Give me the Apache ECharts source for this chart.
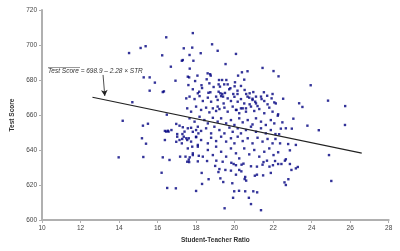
<!DOCTYPE html>
<html><head><meta charset="utf-8">
<script src="https://cdn.jsdelivr.net/npm/echarts@6/dist/echarts.min.js"></script>
<style>html,body{margin:0;padding:0;background:#fff}#c{width:400px;height:251px}</style>
</head><body><div id="c"></div>
<script>
// Student-teacher ratio / test score pairs
const topDistricts = [
[16.45,704.4],[15.38,699.3],[15.12,698.3],[14.52,695.4],[16.24,694.1],[17.31,691.4],[17.26,691.0],[17.36,698.1],[16.69,687.6],[15.28,681.5],[15.59,681.5],[15.86,678.5],[16.93,679.6],[15.59,673.9],[16.33,673.5],[16.27,673.1],
[17.83,706.8],[18.83,700.4],[19.12,696.7],[17.80,698.5],[17.66,694.3],[18.24,695.3],[20.07,694.9],[17.86,691.0],[19.53,689.1],[17.67,686.5],[21.45,686.9],[22.02,685.1],[20.67,685.0],[20.38,684.4],[17.57,681.9],[17.64,681.5],[18.07,682.5],[18.60,683.8],[18.73,683.3],[18.76,682.5],[18.55,680.4],[20.18,682.5],[20.50,680.2],[19.19,680.0],[19.35,680.0],[19.57,680.0],[17.95,679.4],[17.60,677.1],[18.31,675.4],[18.69,678.1],[18.91,676.0],[19.17,677.5],[19.64,677.5],[20.02,678.7],[20.00,676.4],[19.78,675.3],[18.09,672.4],[18.16,673.3],[18.74,673.0],[19.17,673.3],[19.26,672.4],[19.36,672.0],[19.50,672.6],[19.93,672.0],[20.15,672.0],[20.60,672.0],[20.78,672.4],[21.97,672.0],[17.83,674.7],[22.28,682.1],[23.95,677.0],[21.52,673.0],[21.69,671.0],
[18.28,677.0],[18.64,672.7],[19.24,676.2],[19.46,677.5],[19.40,670.5],[19.72,674.7],[20.15,673.9],[20.33,676.6],[20.52,674.3],[20.97,673.1],[20.67,670.5],[20.93,669.3],[21.11,670.5],[21.40,669.1],[21.07,667.6],[21.19,665.1],[20.78,666.1],[20.59,663.8],[20.33,663.8],[20.10,662.9]
];
const rightDistricts = [
[22.52,669.3],[22.14,666.6],[23.35,666.7],[23.52,664.6],[24.85,668.2],[25.74,665.1],[22.26,660.4],[22.24,659.6],[23.05,657.9],[22.48,655.8],[23.78,653.9],[25.73,654.3],[22.40,652.2],[22.66,652.4],[22.97,652.2],[24.37,651.3],[22.12,649.1],[22.31,649.0],[22.12,646.3],[22.36,643.8],[22.78,643.4],[22.87,639.8],[22.26,638.7],[24.90,637.1],[22.66,634.7],[25.02,622.3],[23.18,629.5],[23.28,630.3],[22.95,628.6],[22.26,632.0],[22.43,632.0],[22.61,633.9],[22.87,632.0],[22.79,623.3],[22.59,621.5],[22.66,620.0],[23.18,642.9],[22.10,633.7]
];
const bottomDistricts = [
[17.64,633.1],[18.09,633.5],[18.57,633.7],[19.05,633.9],[19.38,633.3],[19.83,632.7],[19.95,632.0],[20.07,631.3],[20.36,631.6],[20.46,632.2],[20.85,630.7],[21.16,630.5],[21.45,631.6],[21.50,633.1],[21.68,633.9],[21.81,630.5],[21.99,631.3],[18.99,630.9],[19.21,629.1],[19.16,627.4],[19.52,628.6],[19.81,628.2],[20.24,628.6],[20.35,627.8],[20.07,625.9],[20.55,624.6],[20.52,623.4],[20.60,622.5],[21.05,625.3],[21.16,625.9],[21.48,625.5],[21.88,626.9],[18.29,626.9],[18.65,623.3],[19.26,623.8],[19.41,621.7],[19.88,621.0],[18.31,620.6],[18.00,616.6],[19.98,616.4],[20.23,616.7],[20.55,616.4],[20.97,616.4],[21.17,615.8],[19.92,612.7],[20.74,612.7],[20.85,609.1],[19.48,606.7],[21.37,605.6]
];
const leftDistricts = [
[16.62,634.3],[16.21,627.0],[16.50,618.3],[16.95,618.1],[13.98,635.8],[15.26,636.0],[15.19,646.7],[15.40,643.6],[15.24,653.9],[16.27,635.8],[17.17,636.2],[17.45,636.2],[17.67,635.8],[17.62,634.5],[17.54,633.3],[17.80,641.9],[16.97,644.7],[17.14,645.7],[17.28,646.3],[16.38,645.7],[16.38,650.9],[16.45,650.5],[16.53,651.0],[16.72,651.4],[17.02,649.1],[17.40,650.5],[17.36,647.6],[17.54,645.7],[17.62,646.7],[17.74,652.7],[18.00,651.4],[18.12,649.5],[18.00,647.3],[18.09,642.9],[18.14,636.7],[17.83,637.1],
[14.69,667.3],[14.19,656.7],[15.50,655.0],[16.48,660.2],[16.97,654.9],[17.14,653.9],[17.31,653.0],[16.57,650.5],[17.29,649.1],[17.26,643.8],[17.02,647.6]
];
const centerDistricts = [
[17.49,669.5],[17.66,670.5],[17.92,669.1],[18.18,670.8],[18.35,668.0],[18.61,669.9],[18.78,667.6],[19.04,670.5],[19.12,668.6],[19.30,670.8],[19.43,666.6],[19.64,669.5],[19.81,668.0],[19.99,670.4],[20.16,667.6],[20.33,669.1],[20.50,666.6],[20.76,669.9],[20.93,668.6],[21.11,666.6],[21.37,670.5],[21.54,668.0],[21.71,666.1],[21.92,669.5],[22.06,667.2],
[17.54,663.8],[17.74,661.9],[18.00,664.8],[18.26,662.9],[18.52,664.2],[18.69,661.5],[18.87,663.8],[19.04,662.3],[19.12,664.8],[19.21,663.4],[19.47,664.2],[19.64,661.9],[19.90,664.8],[20.07,662.9],[20.24,661.0],[20.42,663.8],[20.59,661.9],[20.85,664.8],[21.02,662.3],[21.28,663.4],[21.54,661.0],[21.80,664.2],[21.97,661.9],
[17.66,658.1],[17.92,656.2],[18.18,659.0],[18.43,657.1],[18.61,655.2],[18.87,658.4],[19.12,656.2],[19.30,658.1],[19.56,655.2],[19.81,657.1],[19.99,654.3],[20.24,658.1],[20.42,655.8],[20.68,657.1],[20.93,654.6],[21.11,658.1],[21.37,656.2],[21.62,654.3],[21.88,657.1],[22.06,655.2],
[17.57,652.4],[17.83,650.4],[18.09,653.3],[18.26,650.9],[18.52,652.4],[18.78,649.5],[18.95,653.3],[19.21,651.4],[19.47,649.5],[19.73,652.8],[19.90,650.4],[20.16,652.4],[20.33,649.5],[20.59,651.4],[20.85,653.3],[21.11,650.4],[21.37,652.4],[21.62,649.5],[21.88,651.4],
[17.49,646.7],[17.74,644.8],[18.00,647.6],[18.26,645.7],[18.61,643.8],[18.78,647.0],[19.04,645.1],[19.30,647.6],[19.56,644.8],[19.81,646.7],[19.99,643.8],[20.16,647.6],[20.42,645.1],[20.68,646.7],[20.93,643.8],[21.19,647.0],[21.45,644.8],[21.71,646.3],[21.97,643.8],
[17.57,640.9],[17.83,638.1],[18.09,641.9],[18.35,636.2],[18.61,640.0],[18.87,637.1],[19.04,641.9],[19.30,639.0],[19.56,636.2],[19.81,640.9],[20.07,638.1],[20.24,635.2],[20.50,640.9],[20.76,637.5],[21.02,640.0],[21.28,636.2],[21.54,639.0],[21.80,640.9],[22.02,637.1]
];
// Fitted line endpoints (STR, predicted score)
const fitLine = [[12.62, 670.1], [26.6, 638.2]];
// Arrow of the annotation (from label to line)
const arrowFrom = [13.17, 682.9];
const arrowTo = [13.26, 670.9];
const xAxisRange = {min: 10, max: 28, step: 2};
const yAxisRange = {min: 600, max: 720, step: 20};
const xTitle = 'Student-Teacher Ratio';
const yTitle = 'Test Score';
const fitLabel = 'Test Score = 698.9 \u2013 2.28 \u00d7 STR';

const allPoints = [].concat(topDistricts, rightDistricts, bottomDistricts, leftDistricts, centerDistricts);
const font = '"Liberation Sans", Arial, sans-serif';
const axisGray = '#b0b0b0';
const chart = echarts.init(document.getElementById('c'), null, {renderer: 'canvas'});
chart.setOption({
  animation: false,
  backgroundColor: '#fff',
  grid: {left: 42, top: 10, width: 346.7, height: 210},
  xAxis: {
    type: 'value', min: xAxisRange.min, max: xAxisRange.max, interval: xAxisRange.step,
    name: xTitle, nameLocation: 'middle', nameGap: 17,
    nameTextStyle: {fontFamily: font, fontSize: 6.5, fontWeight: 'bold', color: '#333'},
    axisLine: {lineStyle: {color: axisGray, width: 2}},
    axisTick: {show: true, length: 3, lineStyle: {color: axisGray}},
    axisLabel: {fontFamily: font, fontSize: 6.5, color: '#444', margin: 5},
    splitLine: {show: false}
  },
  yAxis: {
    type: 'value', min: yAxisRange.min, max: yAxisRange.max, interval: yAxisRange.step,
    name: yTitle, nameLocation: 'middle', nameGap: 22, nameRotate: 90,
    nameTextStyle: {fontFamily: font, fontSize: 6.5, fontWeight: 'bold', color: '#333'},
    axisLine: {show: true, lineStyle: {color: axisGray, width: 2}},
    axisTick: {show: true, length: 3, lineStyle: {color: axisGray}},
    axisLabel: {fontFamily: font, fontSize: 6.5, color: '#444', margin: 5},
    splitLine: {show: false}
  },
  series: [
    {type: 'scatter', data: allPoints, symbol: 'rect', symbolSize: 2.4,
     itemStyle: {color: '#000080'}},
    {type: 'line', data: fitLine, symbol: 'none', lineStyle: {color: '#222', width: 1.1},
     markLine: {silent: true, symbol: ['none', 'arrow'], symbolSize: [5, 6],
       lineStyle: {color: '#222', width: 0.8, type: 'solid'}, label: {show: false},
       data: [[{coord: arrowFrom}, {coord: arrowTo}]]}}
  ],
  graphic: [
    {type: 'text', left: 48, top: 68, style: {text: fitLabel, font: 'italic 6.5px ' + font, fill: '#333'}},
    {type: 'line', shape: {x1: 48, y1: 67.5, x2: 80, y2: 67.5}, style: {stroke: '#555', lineWidth: 0.6}}
  ]
});
</script></body></html>
